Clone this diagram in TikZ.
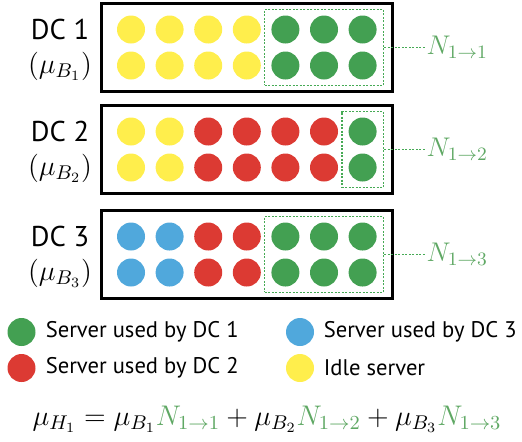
\RequirePackage{fix-cm}
\documentclass[tikz,border=0pt]{standalone}
\usepackage{fontspec}
\setsansfont{PT Sans}
\usepackage{tikz}
\usetikzlibrary{fit,positioning}
\definecolor{srvgreen}{RGB}{67,160,82}
\definecolor{srvred}{RGB}{220,58,51}
\definecolor{srvblue}{RGB}{80,168,220}
\definecolor{srvyellow}{RGB}{255,238,76}
\definecolor{linkgreen}{RGB}{95,168,100}
\definecolor{dotgreen}{RGB}{70,170,85}

\tikzset{
  server/.style={circle, fill=#1, minimum size=14pt, inner sep=0pt},
  dcbox/.style={draw, line width=1.5pt, inner xsep=7.5pt, inner ysep=6pt},
  usedbox/.style={draw=dotgreen, line width=0.8pt, dash pattern=on 1pt off 0.75pt, inner xsep=3.25pt, inner ysep=2.75pt},
  link/.style={draw=dotgreen, line width=0.8pt, dash pattern=on 1pt off 0.75pt},
  nlabel/.style={text=linkgreen, inner sep=0.5pt, font=\fontsize{13.5}{16}\selectfont},
  dclabel/.style={font=\sffamily\fontsize{14.3}{16}\selectfont},
  mathlabel/.style={font=\fontsize{14.2}{16}\selectfont},
  legendtext/.style={inner sep=0pt, font=\sffamily\fontsize{11.3}{13}\selectfont}
}

\begin{document}
\begin{tikzpicture}[x=0.5pt,y=-0.5pt]
  \useasboundingbox (0,0) rectangle (522,441);

  % servers
  \foreach \dc/\yc/\cols in {1/47.5/{srvyellow,srvyellow,srvyellow,srvyellow,srvgreen,srvgreen,srvgreen},
      2/149.5/{srvyellow,srvyellow,srvred,srvred,srvred,srvred,srvgreen},
      3/254.5/{srvblue,srvblue,srvred,srvred,srvgreen,srvgreen,srvgreen}}{
    \foreach \c [count=\col] in \cols {
      \pgfmathsetmacro{\xc}{131+38.6*(\col-1)}
      \node[server=\c] (s\dc-1-\col) at (\xc,\yc-18) {};
      \node[server=\c] (s\dc-2-\col) at (\xc,\yc+18) {};
    }
    \node[dclabel] (dc\dc-name) at (60,\yc-18.5) {DC \dc};
    \node[mathlabel] (dc\dc-rate) at (60,\yc+19) {$(\mu_{B_{\dc}})$};
  }
  \foreach \dc in {1,2,3}
    \node[dcbox, fit=(s\dc-1-1.west)(s\dc-1-1.north)(s\dc-2-7.east)(s\dc-2-7.south)] (dc\dc) {};

  % servers lent to DC 1
  \node[usedbox, fit=(s1-1-5.west)(s1-1-5.north)(s1-2-7.east)(s1-2-7.south)] (u1) {};
  \node[usedbox, fit=(s2-1-7.west)(s2-1-7.north)(s2-2-7.east)(s2-2-7.south)] (u2) {};
  \node[usedbox, fit=(s3-1-5.west)(s3-1-5.north)(s3-2-7.east)(s3-2-7.south)] (u3) {};
  \foreach \k in {1,2,3}{
    \node[nlabel, right=20.5pt of u\k] (n\k) {$N_{1\to\k}$};
    \draw[link] (u\k) -- (n\k);
  }

  % legend
  \node[server=srvgreen] (k1) at (21.5,332) {};
  \node[legendtext, right=4.75pt of k1] (k1-text) {Server used by DC 1};
  \node[server=srvred] (k2) at (21.5,368) {};
  \node[legendtext, right=4.75pt of k2] (k2-text) {Server used by DC 2};
  \node[server=srvblue] (k3) at (300,332) {};
  \node[legendtext, right=4.5pt of k3] (k3-text) {Server used by DC 3};
  \node[server=srvyellow] (k4) at (300,368) {};
  \node[legendtext, right=4.5pt of k4] (k4-text) {Idle server};

  \node[mathlabel] (total) at (267,419) {$\mu_{H_1} = \mu_{B_1}{\color{linkgreen}N_{1\to1}} + \mu_{B_2}{\color{linkgreen}N_{1\to2}} + \mu_{B_3}{\color{linkgreen}N_{1\to3}}$};
\end{tikzpicture}
\end{document}
